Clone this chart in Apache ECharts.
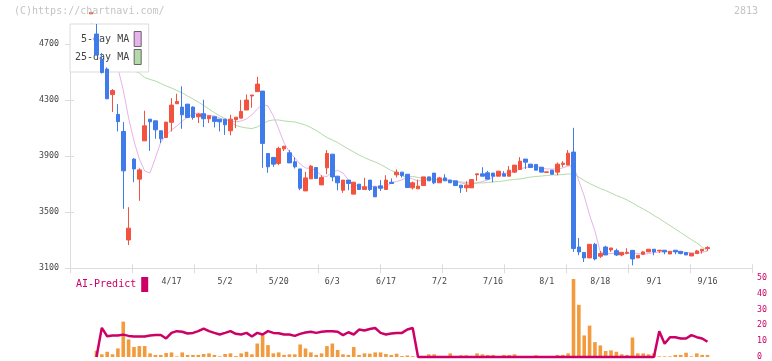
<!DOCTYPE html>
<html>
<head>
<meta charset="utf-8">
<script src="https://cdn.jsdelivr.net/npm/echarts@6/dist/echarts.min.js"></script>
<style>
html,body{margin:0;padding:0;background:#fff;}
#chart{width:772px;height:361px;}
</style>
</head>
<body>
<div id="chart"></div>
<script>
// ---- data (first entry = 15 trading days before 4/17, last = 9/16) ----
const tickDates = ['4/17','5/2','5/20','6/3','6/17','7/2','7/16','8/1','8/18','9/1','9/16'];
const firstTickSlot = 15;   // slot of 4/17
const tickEvery = 10;       // a date label every 10 trading days
const slotCount = 124;
const priceTicks = [3100, 3500, 3900, 4300, 4700];
const aiTicks = [0, 10, 20, 30, 40, 50];

const opens = [4915,4771,4591,4521,4339,4198,4076,3302,3879,3736,4009,4164,4152,4081,4033,
4141,4274,4250,4271,4250,4181,4203,4167,4181,4164,
4164,4081,4160,4171,4229,4329,4360,4364,3919,3891,
3848,3952,3924,3860,3809,3652,3738,3819,3695,3817,
3914,3757,3657,3729,3629,3700,3662,3729,3681,3688,
3662,3714,3767,3786,3771,3674,3667,3690,3752,3779,
3710,3745,3729,3724,3693,3674,3674,3767,3774,3781,
3779,3757,3774,3757,3786,3805,3879,3843,3841,3821,
3784,3800,3786,3841,3836,3929,3252,3213,3174,3271,
3186,3252,3231,3226,3195,3207,3228,3174,3200,3217,
3236,3224,3229,3202,3229,3221,3212,3188,3205,3224,3241];
const closes = [4925,4621,4496,4309,4368,4146,3795,3386,3809,3802,4116,4145,4088,4024,4143,
4264,4290,4195,4176,4176,4200,4167,4188,4148,4145,
4124,4164,4178,4219,4300,4336,4414,3991,3824,3843,
3955,3971,3852,3824,3671,3745,3829,3741,3748,3919,
3752,3710,3729,3705,3714,3662,3681,3662,3610,3671,
3729,3705,3786,3762,3676,3710,3686,3752,3724,3710,
3745,3724,3710,3690,3674,3693,3733,3774,3757,3736,
3757,3793,3757,3800,3836,3864,3857,3819,3800,3786,
3788,3771,3843,3850,3921,3241,3217,3174,3271,3167,
3205,3195,3245,3195,3214,3214,3167,3193,3217,3236,
3217,3229,3217,3221,3217,3205,3195,3207,3224,3236,3248];
const lows = [4915,4621,4490,4309,4214,4076,3524,3266,3714,3581,4009,3938,4024,3993,4033,
4076,4274,4095,4176,4160,4136,4107,4136,4105,4076,
4052,4048,4100,4171,4229,4245,4360,3817,3781,3824,
3836,3936,3852,3812,3657,3652,3738,3741,3695,3771,
3721,3657,3638,3657,3629,3662,3662,3652,3610,3652,
3662,3705,3748,3748,3676,3662,3667,3690,3724,3700,
3710,3724,3710,3690,3638,3645,3674,3724,3757,3736,
3714,3757,3757,3757,3779,3805,3809,3819,3800,3786,
3784,3771,3764,3821,3836,3217,3193,3145,3174,3157,
3174,3195,3217,3188,3186,3200,3121,3174,3200,3217,
3193,3210,3200,3202,3200,3200,3195,3188,3205,3205,3224];
const highs = [4925,4843,4636,4533,4378,4271,4143,3536,3885,3814,4224,4164,4152,4081,4143,
4314,4345,4398,4271,4255,4205,4302,4188,4181,4164,
4164,4195,4178,4302,4340,4336,4466,4364,3919,3891,
3967,3971,3943,3891,3809,3788,3836,3819,3764,3943,
3914,3757,3729,3729,3714,3700,3745,3729,3681,3729,
3764,3741,3805,3786,3771,3719,3733,3752,3752,3779,
3752,3771,3729,3724,3693,3721,3733,3774,3821,3795,
3779,3793,3793,3829,3836,3893,3879,3843,3843,3821,
3788,3800,3855,3864,3943,4102,3316,3213,3271,3281,
3224,3260,3245,3240,3214,3243,3228,3193,3224,3236,
3236,3229,3229,3221,3229,3221,3214,3207,3231,3236,3257];
const ma5 = [4850,4800,4720,4640,4580,4530,4372,4172,4008,3880,3794,3780,3887,4001,4051,
4087,4115,4151,4179,4201,4208,4197,4190,4187,4172,
4158,4151,4144,4151,4165,4194,4236,4269,4258,4187,
4094,3994,3930,3887,3844,3816,3812,3798,3758,3755,
3787,3798,3780,3730,3698,3684,3680,3680,3687,3673,
3680,3709,3719,3730,3751,3737,3723,3726,3737,3737,
3730,3737,3730,3719,3709,3701,3701,3709,3719,3730,
3751,3769,3776,3783,3791,3808,3819,3826,3826,3819,
3808,3808,3808,3816,3830,3830,3723,3616,3480,3366,
3216,3210,3205,3208,3203,3205,3210,3206,3200,3205,
3212,3216,3220,3220,3222,3218,3214,3210,3208,3214,3223];
const ma25 = [4600,4590,4580,4568,4556,4544,4532,4520,4508,4493,4461,4447,4436,4418,4401,
4386,4368,4351,4329,4308,4286,4261,4236,4211,4187,
4169,4144,4119,4108,4101,4097,4108,4129,4151,4158,
4158,4151,4147,4144,4133,4122,4104,4083,4058,4033,
4015,3997,3973,3951,3930,3908,3890,3873,3858,3841,
3819,3798,3780,3758,3751,3755,3748,3741,3737,3734,
3730,3726,3723,3719,3716,3712,3709,3709,3709,3712,
3716,3719,3723,3730,3734,3737,3744,3751,3755,3758,
3762,3766,3766,3769,3773,3773,3751,3726,3705,3687,
3669,3655,3637,3619,3605,3587,3566,3544,3523,3502,
3477,3455,3430,3405,3380,3355,3330,3305,3280,3252,3223];
const volume = [null,4,1.7,3.3,1.7,5.4,22.3,11.1,6.3,6.9,6.9,2.3,1.3,1.3,2.5,
2.9,0.4,2.9,1.3,1.3,1.3,1.9,2.3,1.3,0.4,
1.9,2.3,0.6,2.3,3.3,1.7,8.5,13.8,7.5,2.3,
2.9,1.3,1.7,1.7,7.9,5.4,2.9,1.3,2.3,6.9,
8.5,4.4,1.7,1.3,6.3,1.3,2.3,2.1,2.9,2.9,
1.9,1.3,2.1,0.6,1,0.5,0.3,0.3,1.7,1.7,
0.3,0.3,2.3,0.3,1.1,1.1,0.3,2.3,1.7,1.3,
1.3,0.3,1.3,1.3,1.7,0.3,0.3,0.3,1.1,0.3,
0.3,0.3,1.3,1.3,2.3,49.2,32.9,13.6,19.8,9.4,
7.3,3.8,4.2,3.3,1.7,1.3,12.3,2.3,2.3,1.7,
2.3,0.4,0.4,0.4,1.3,1.3,2.7,0.4,2.3,1.3,1.3];
const aiPredict = [null,0,18.4,13.1,13.5,13.5,14.1,13.3,12.9,12.9,12.9,13.6,13.9,13.9,11.7,
15.2,16.3,15.9,14.8,15.2,16.3,17.9,16.3,15.2,14.2,
15.2,16.3,14.6,14.2,15.2,12.9,15.2,14.2,16.3,15.2,
15.0,14.2,14.2,13.3,14.6,15.4,15.9,15.2,15.9,16.3,
16.3,15.9,13.8,15.6,14.2,17.3,16.7,17.7,18.3,15.2,
14.2,14.8,15.2,15.2,17.3,18.3,0,0,0,0,
0,0,0,0,0,0,0,0,0,0,
0,0,0,0,0,0,0,0,0,0,
0,0,0,0,0,0,0,0,0,0,
0,0,0,0,0,0,0,0,0,0,
0,16.3,8.4,12.5,12.5,11.7,11.7,13.8,12.5,11.7,9.6];

// ---- build ----
const MONO = "'DejaVu Sans Mono','Liberation Mono',monospace";
const UP = '#f2533f', DOWN = '#3f7be9';
const PINK = '#e8b2ec', GREEN = '#b3dba9';
const ORANGE = '#f39a3d', CRIMSON = '#cc0066';

const slots = Array.from({length: slotCount}, (_, i) => String(i));
const labelOf = {};
tickDates.forEach((d, k) => { labelOf[firstTickSlot + k * tickEvery] = d; });
const candles = opens.map((o, i) => [o, closes[i], lows[i], highs[i]]);

const chart = echarts.init(document.getElementById('chart'), null, {renderer: 'canvas'});
const axisGray = '#dcdcdc';
chart.setOption({
  animation: false,
  backgroundColor: '#fff',
  grid: [
    {left: 70, right: 20, top: 44, bottom: 92.7},
    {left: 88.42, right: 18.94, top: 7.55, bottom: 92.7},
    {left: 88.42, right: 18.94, top: 277.7, bottom: 3.3}
  ],
  xAxis: [
    {gridIndex: 0, type: 'value', position: 'bottom', min: 0, max: 11, interval: 1,
     axisLine: {show: true, lineStyle: {color: axisGray, width: 1}},
     axisTick: {show: true, inside: false, length: 5, lineStyle: {color: axisGray}},
     axisLabel: {show: false}, splitLine: {show: false}},
    {gridIndex: 0, type: 'value', position: 'bottom', min: 0, max: 11, interval: 1,
     axisLine: {show: false},
     axisTick: {show: true, inside: true, length: 4, lineStyle: {color: axisGray}},
     axisLabel: {show: false}, splitLine: {show: false}},
    {gridIndex: 1, type: 'category', position: 'bottom', data: slots, boundaryGap: true,
     axisLine: {show: false}, axisTick: {show: false}, splitLine: {show: false},
     axisLabel: {interval: (i) => labelOf[i] !== undefined, formatter: (v, i) => labelOf[i] || '',
       margin: 10, fontSize: 8.3, color: '#444', fontFamily: MONO}},
    {gridIndex: 2, type: 'category', position: 'bottom', data: slots, boundaryGap: true, show: false}
  ],
  yAxis: [
    {gridIndex: 0, type: 'value', min: priceTicks[0], max: priceTicks[priceTicks.length - 1],
     interval: priceTicks[1] - priceTicks[0], position: 'left',
     axisLine: {show: true, lineStyle: {color: axisGray, width: 1}},
     axisTick: {show: true, inside: false, length: 5, lineStyle: {color: axisGray}},
     axisLabel: {margin: 11, fontSize: 8.3, color: '#444', fontFamily: MONO, formatter: (v) => String(v)},
     splitLine: {show: false}},
    {gridIndex: 0, type: 'value', min: priceTicks[0], max: priceTicks[priceTicks.length - 1],
     interval: priceTicks[1] - priceTicks[0], position: 'left',
     axisLine: {show: false},
     axisTick: {show: true, inside: true, length: 4, lineStyle: {color: axisGray}},
     axisLabel: {show: false}, splitLine: {show: false}},
    {gridIndex: 1, type: 'value', min: 3100, max: 4960, show: false, splitLine: {show: false}},
    {gridIndex: 2, type: 'value', min: aiTicks[0], max: aiTicks[aiTicks.length - 1],
     interval: aiTicks[1] - aiTicks[0], position: 'right',
     axisLine: {show: false}, axisTick: {show: false}, splitLine: {show: false},
     axisLabel: {margin: 4, fontSize: 8.3, color: CRIMSON, fontFamily: MONO}}
  ],
  legend: [
    {data: [
        {name: '5-day MA', itemStyle: {color: PINK, borderColor: '#666', borderWidth: 1}},
        {name: '25-day MA', itemStyle: {color: GREEN, borderColor: '#666', borderWidth: 1}}],
     left: 70, top: 24, orient: 'vertical', align: 'right', icon: 'rect',
     itemWidth: 7, itemHeight: 15, itemGap: 2, padding: [7, 7, 7, 5],
     backgroundColor: '#fff', borderColor: '#dcdcdc', borderWidth: 1,
     formatter: (n) => n.padStart(9, ' '), selectedMode: false, z: 4,
     textStyle: {fontFamily: MONO, fontSize: 10, color: '#444'}},
    {data: [{name: 'AI-Predict', itemStyle: {color: CRIMSON}}],
     left: 76, top: 277, align: 'right', icon: 'rect', itemWidth: 7, itemHeight: 15,
     padding: 0, selectedMode: false,
     textStyle: {fontFamily: MONO, fontSize: 10, color: CRIMSON}}
  ],
  graphic: [
    {type: 'text', left: 14, top: 6, z: 10,
     style: {text: '(C)https://chartnavi.com/', fill: '#c4c4c4', font: '10px ' + MONO}},
    {type: 'text', right: 14, top: 6, z: 10,
     style: {text: '2813', fill: '#c4c4c4', font: '10px ' + MONO}}
  ],
  series: [
    {name: '5-day MA', type: 'line', xAxisIndex: 2, yAxisIndex: 2, data: ma5,
     symbol: 'none', z: 1, lineStyle: {color: PINK, width: 1}, itemStyle: {color: PINK}},
    {name: '25-day MA', type: 'line', xAxisIndex: 2, yAxisIndex: 2, data: ma25,
     symbol: 'none', z: 1, lineStyle: {color: GREEN, width: 1}, itemStyle: {color: GREEN}},
    {name: 'price', type: 'candlestick', xAxisIndex: 2, yAxisIndex: 2, data: candles,
     barWidth: 4, z: 5,
     itemStyle: {color: UP, color0: DOWN, borderColor: UP, borderColor0: DOWN, borderWidth: 1}},
    {name: 'volume', type: 'bar', xAxisIndex: 3, yAxisIndex: 3, data: volume,
     barWidth: 3.6, itemStyle: {color: ORANGE}, z: 2},
    {name: 'AI-Predict', type: 'line', xAxisIndex: 3, yAxisIndex: 3, data: aiPredict,
     symbol: 'none', z: 3, clip: false, lineStyle: {color: CRIMSON, width: 2.5}, itemStyle: {color: CRIMSON}}
  ]
});
</script>
</body>
</html>
